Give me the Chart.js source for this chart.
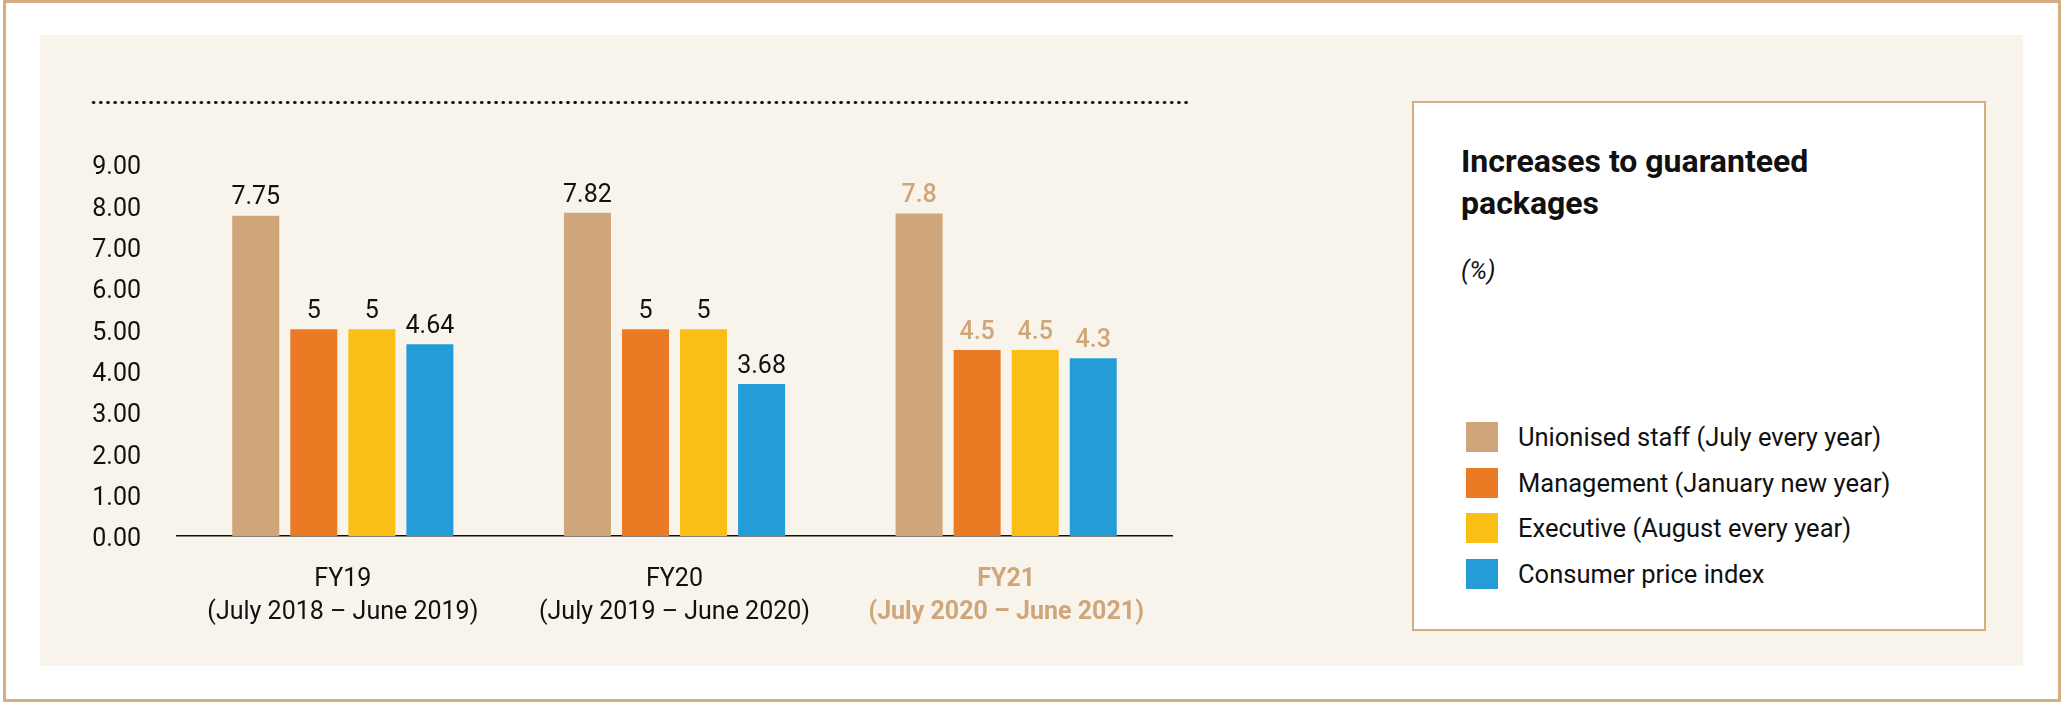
<!DOCTYPE html>
<html>
<head>
<meta charset="utf-8">
<script src="https://cdn.jsdelivr.net/npm/chart.js@4.4.1/dist/chart.umd.min.js"></script>
<style>
  html, body { margin: 0; padding: 0; background: #fff; }
  body { width: 2068px; height: 708px; position: relative; overflow: hidden;
         font-family: Roboto, "Liberation Sans", sans-serif; color: #111; }
  .frame { position: absolute; left: 3px; top: 0; width: 2052px; height: 696px; border: 3px solid #d4ad80; }
  .panel { position: absolute; left: 40px; top: 35px; width: 1983px; height: 631px; background: #f8f4ec; }
  .dots { position: absolute; left: 90px; top: 100px; width: 1098px; height: 5px;
          background: radial-gradient(circle, #111 1.4px, transparent 1.9px) 0 0 / 7.2px 5px repeat-x; }
  #wrap { position: absolute; left: 0; top: 0; width: 1240px; height: 708px; }
  .box { position: absolute; left: 1412px; top: 101px; width: 570px; height: 526px; background: #fff; border: 2px solid #d4ad80; }
  .title { position: absolute; left: 47px; top: 37px; font-weight: bold; font-size: 32px; line-height: 42px; }
  .unit { position: absolute; left: 47px; top: 151px; font-style: italic; font-size: 25px; line-height: 34px; }
  .legend { position: absolute; left: 52px; top: 311px; }
  .row { height: 45.7px; display: flex; align-items: center; font-size: 25.5px; }
  .sw { width: 32px; height: 30px; margin-right: 20px; }
</style>
</head>
<body>
<div class="frame"></div>
<div class="panel"></div>
<div class="dots"></div>
<div id="wrap"><canvas id="myChart" width="1240" height="708"></canvas></div>
<div class="box">
  <div class="title">Increases to guaranteed<br>packages</div>
  <div class="unit">(%)</div>
  <div class="legend" id="legend"></div>
</div>
<script>
const categories = [
  ['FY19', '(July 2018 – June 2019)'],
  ['FY20', '(July 2019 – June 2020)'],
  ['FY21', '(July 2020 – June 2021)']
];
const seriesNames = [
  'Unionised staff (July every year)',
  'Management (January new year)',
  'Executive (August every year)',
  'Consumer price index'
];
const unionised = [7.75, 7.82, 7.8];
const management = [5, 5, 4.5];
const executive = [5, 5, 4.5];
const cpi = [4.64, 3.68, 4.3];
const yTicks = [0, 1, 2, 3, 4, 5, 6, 7, 8, 9];

const colors = ['#cfa679', '#ea7a23', '#f9bf14', '#239cd7'];
const tan = '#cfa679';
const fontFamily = 'Roboto, "Liberation Sans", sans-serif';

// legend in the side box
const legendEl = document.getElementById('legend');
seriesNames.forEach((name, i) => {
  const row = document.createElement('div');
  row.className = 'row';
  row.innerHTML = `<div class="sw" style="background:${colors[i]}"></div><span>${name}</span>`;
  legendEl.appendChild(row);
});

const valueLabels = {
  id: 'valueLabels',
  afterDatasetsDraw(chart) {
    const ctx = chart.ctx;
    ctx.save();
    ctx.textAlign = 'center';
    ctx.textBaseline = 'bottom';
    chart.data.datasets.forEach((ds, di) => {
      chart.getDatasetMeta(di).data.forEach((bar, i) => {
        const last = i === categories.length - 1;
        ctx.fillStyle = last ? tan : '#111';
        ctx.font = (last ? '500 ' : '') + '25px ' + fontFamily;
        ctx.fillText(String(ds.data[i]), bar.x, bar.y - 5);
      });
    });
    ctx.restore();
  }
};

const ctx = document.getElementById('myChart').getContext('2d');
new Chart(ctx, {
  type: 'bar',
  data: {
    labels: categories,
    datasets: [unionised, management, executive, cpi].map((d, i) => ({
      label: seriesNames[i],
      data: d,
      backgroundColor: colors[i],
      borderWidth: 0,
      categoryPercentage: 0.7,
      barPercentage: 0.81
    }))
  },
  options: {
    responsive: false,
    animation: false,
    events: [],
    layout: { padding: { left: 60, right: 68, top: 164, bottom: 52 } },
    plugins: { legend: { display: false }, tooltip: { enabled: false } },
    scales: {
      x: {
        grid: { display: false, drawTicks: false },
        border: { display: true, color: '#111', width: 1.5 },
        ticks: {
          padding: 27,
          autoSkip: false,
          minRotation: 0,
          maxRotation: 0,
          color: (c) => c.index === 2 ? tan : '#111',
          font: (c) => ({ family: fontFamily, size: 25, lineHeight: 1.32, weight: c.index === 2 ? 'bold' : 'normal' })
        },
        afterFit: (axis) => { axis.height = 120; }
      },
      y: {
        min: 0,
        max: 9,
        grid: { display: false, drawTicks: false },
        border: { display: false },
        afterBuildTicks: (axis) => { axis.ticks = yTicks.map(v => ({ value: v })); },
        ticks: {
          padding: 36,
          labelOffset: 4,
          color: '#111',
          font: { family: fontFamily, size: 25 },
          callback: (v) => Number(v).toFixed(2)
        },
        afterFit: (axis) => { axis.width = 117; }
      }
    }
  },
  plugins: [valueLabels]
});
</script>
</body>
</html>
